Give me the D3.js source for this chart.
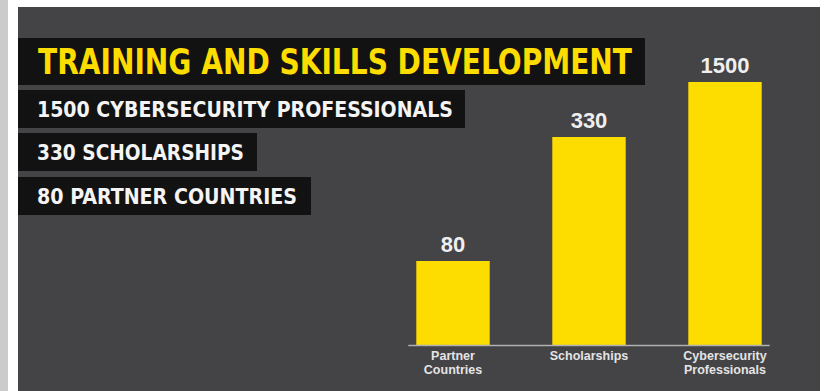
<!DOCTYPE html>
<html>
<head>
<meta charset="utf-8">
<script src="https://cdn.jsdelivr.net/npm/d3@7"></script>
<style>
	body { margin: 0; background: #fff; }
	svg { display: block; }
</style>
</head>
<body>
<script>
// Chart data
const categories = ["Partner Countries", "Scholarships", "Cybersecurity Professionals"];
const values = [80, 330, 1500];
const axisLabels = [["Partner", "Countries"], ["Scholarships"], ["Cybersecurity", "Professionals"]];
const title = "TRAINING AND SKILLS DEVELOPMENT";
const headlines = ["1500 CYBERSECURITY PROFESSIONALS", "330 SCHOLARSHIPS", "80 PARTNER COUNTRIES"];

const width = 825;
const height = 391;
const yellow = "#fddc00";
const condensed = "'Liberation Sans Narrow', 'DejaVu Sans Condensed', 'Roboto Condensed', sans-serif";

const svg = d3.select("body").append("svg").attr("width", width).attr("height", height);

// Left grey strip and dark panel
svg.append("rect").attr("x", 0).attr("y", 0).attr("width", 8).attr("height", height).attr("fill", "#cbcbcb");
svg.append("rect").attr("x", 18).attr("y", 7).attr("width", 802).attr("height", height - 7).attr("fill", "#444345");

// Title box
const titleG = svg.append("g");
titleG.append("rect").attr("x", 18).attr("y", 38).attr("width", 627).attr("height", 47).attr("fill", "#121212");
titleG.append("text")
	.attr("x", 38).attr("y", 74)
	.attr("font-family", condensed).attr("font-weight", "bold").attr("font-size", 35)
	.attr("fill", yellow)
	.attr("textLength", 594).attr("lengthAdjust", "spacingAndGlyphs")
	.text(title);

// Headline boxes
const headTop = [90, 133, 177];
const headWidth = [447, 239, 293];
const headText = [416, 207, 260];
headlines.forEach((h, i) => {
	svg.append("rect").attr("x", 18).attr("y", headTop[i]).attr("width", headWidth[i]).attr("height", 38).attr("fill", "#121212");
	svg.append("text")
		.attr("x", 37).attr("y", headTop[i] + 27)
		.attr("font-family", condensed).attr("font-weight", "bold").attr("font-size", 21)
		.attr("fill", "#f4f4f4")
		.attr("textLength", headText[i]).attr("lengthAdjust", "spacingAndGlyphs")
		.text(h);
});

// Scales
const xScale = d3.scaleBand()
	.domain(categories)
	.range([385, 793])
	.paddingInner(0.46)
	.paddingOuter(0.23);

// the bars are not drawn to a single linear scale in the original
const baseline = 345;
const yScale = d3.scaleLinear()
	.domain([0, 80, 330, 1500])
	.range([baseline, 261, 137, 82]);

// Bars
svg.selectAll(".bar")
	.data(values)
	.enter()
	.append("rect")
	.attr("class", "bar")
	.attr("x", (d, i) => xScale(categories[i]))
	.attr("y", (d) => yScale(d))
	.attr("width", xScale.bandwidth())
	.attr("height", (d) => baseline - yScale(d))
	.attr("fill", yellow);

// Value labels
svg.selectAll(".value")
	.data(values)
	.enter()
	.append("text")
	.attr("class", "value")
	.attr("x", (d, i) => xScale(categories[i]) + xScale.bandwidth() / 2)
	.attr("y", (d) => yScale(d) - 9)
	.attr("text-anchor", "middle")
	.attr("font-family", "'Liberation Sans', Arial, sans-serif")
	.attr("font-weight", "bold")
	.attr("font-size", 22)
	.attr("fill", "#efefef")
	.text((d) => d);

// Axis line
svg.append("line")
	.attr("x1", xScale(categories[0]) - 8)
	.attr("x2", xScale(categories[categories.length - 1]) + xScale.bandwidth() + 8)
	.attr("y1", baseline + 0.5).attr("y2", baseline + 0.5)
	.attr("stroke", "#b0b0b0").attr("stroke-width", 1.5);

// Category labels, one text per line
axisLabels.forEach((lines, i) => {
	lines.forEach((l, j) => {
		svg.append("text")
			.attr("x", xScale(categories[i]) + xScale.bandwidth() / 2)
			.attr("y", 360 + j * 14)
			.attr("text-anchor", "middle")
			.attr("font-family", "'Liberation Sans', Arial, sans-serif")
			.attr("font-weight", "bold")
			.attr("font-size", 12.5)
			.attr("fill", "#e4e4e4")
			.text(l);
	});
});
</script>
</body>
</html>
